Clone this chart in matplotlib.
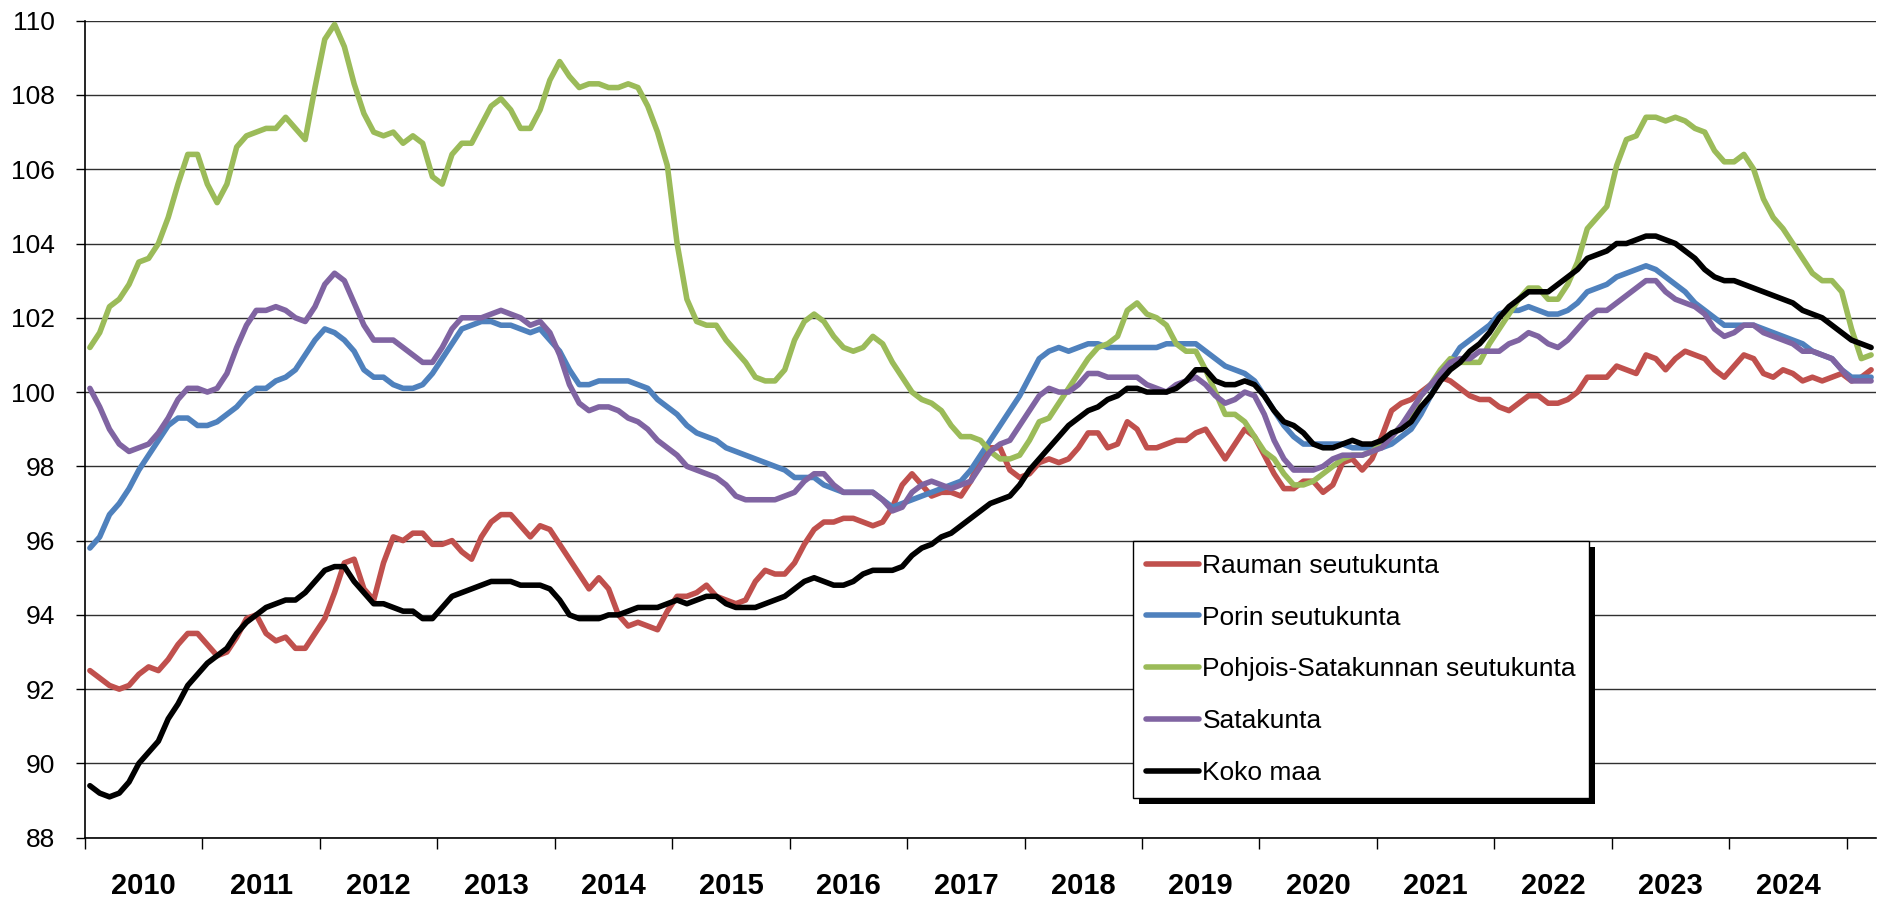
import numpy as np
import matplotlib
matplotlib.use("Agg")
import matplotlib.pyplot as plt
from matplotlib.patches import Rectangle

plt.rcParams['font.family'] = ['Liberation Sans', 'DejaVu Sans']

# Monthly index values, Jan 2010 - Mar 2025
rauma = [
    92.5, 92.3, 92.1, 92.0, 92.1, 92.4, 92.6, 92.5, 92.8, 93.2, 93.5, 93.5,
    93.2, 92.9, 93.0, 93.4, 93.9, 94.0, 93.5, 93.3, 93.4, 93.1, 93.1, 93.5,
    93.9, 94.6, 95.4, 95.5, 94.7, 94.4, 95.4, 96.1, 96.0, 96.2, 96.2, 95.9,
    95.9, 96.0, 95.7, 95.5, 96.1, 96.5, 96.7, 96.7, 96.4, 96.1, 96.4, 96.3,
    95.9, 95.5, 95.1, 94.7, 95.0, 94.7, 94.0, 93.7, 93.8, 93.7, 93.6, 94.1,
    94.5, 94.5, 94.6, 94.8, 94.5, 94.4, 94.3, 94.4, 94.9, 95.2, 95.1, 95.1,
    95.4, 95.9, 96.3, 96.5, 96.5, 96.6, 96.6, 96.5, 96.4, 96.5, 96.9, 97.5,
    97.8, 97.5, 97.2, 97.3, 97.3, 97.2, 97.6, 98.2, 98.5, 98.5, 97.9, 97.7,
    97.8, 98.1, 98.2, 98.1, 98.2, 98.5, 98.9, 98.9, 98.5, 98.6, 99.2, 99.0,
    98.5, 98.5, 98.6, 98.7, 98.7, 98.9, 99.0, 98.6, 98.2, 98.6, 99.0, 98.8,
    98.3, 97.8, 97.4, 97.4, 97.6, 97.6, 97.3, 97.5, 98.1, 98.2, 97.9, 98.2,
    98.8, 99.5, 99.7, 99.8, 100.0, 100.2, 100.4, 100.3, 100.1, 99.9, 99.8, 99.8,
    99.6, 99.5, 99.7, 99.9, 99.9, 99.7, 99.7, 99.8, 100.0, 100.4, 100.4, 100.4,
    100.7, 100.6, 100.5, 101.0, 100.9, 100.6, 100.9, 101.1, 101.0, 100.9, 100.6, 100.4,
    100.7, 101.0, 100.9, 100.5, 100.4, 100.6, 100.5, 100.3, 100.4, 100.3, 100.4, 100.5,
    100.3, 100.4, 100.6,
]

pori = [
    95.8, 96.1, 96.7, 97.0, 97.4, 97.9, 98.3, 98.7, 99.1, 99.3, 99.3, 99.1,
    99.1, 99.2, 99.4, 99.6, 99.9, 100.1, 100.1, 100.3, 100.4, 100.6, 101.0, 101.4,
    101.7, 101.6, 101.4, 101.1, 100.6, 100.4, 100.4, 100.2, 100.1, 100.1, 100.2, 100.5,
    100.9, 101.3, 101.7, 101.8, 101.9, 101.9, 101.8, 101.8, 101.7, 101.6, 101.7, 101.4,
    101.1, 100.6, 100.2, 100.2, 100.3, 100.3, 100.3, 100.3, 100.2, 100.1, 99.8, 99.6,
    99.4, 99.1, 98.9, 98.8, 98.7, 98.5, 98.4, 98.3, 98.2, 98.1, 98.0, 97.9,
    97.7, 97.7, 97.7, 97.5, 97.4, 97.3, 97.3, 97.3, 97.3, 97.1, 96.9, 97.0,
    97.1, 97.2, 97.3, 97.4, 97.5, 97.6, 97.9, 98.3, 98.7, 99.1, 99.5, 99.9,
    100.4, 100.9, 101.1, 101.2, 101.1, 101.2, 101.3, 101.3, 101.2, 101.2, 101.2, 101.2,
    101.2, 101.2, 101.3, 101.3, 101.3, 101.3, 101.1, 100.9, 100.7, 100.6, 100.5, 100.3,
    99.9, 99.5, 99.1, 98.8, 98.6, 98.6, 98.6, 98.6, 98.6, 98.5, 98.5, 98.5,
    98.5, 98.6, 98.8, 99.0, 99.4, 99.9, 100.4, 100.8, 101.2, 101.4, 101.6, 101.8,
    102.1, 102.2, 102.2, 102.3, 102.2, 102.1, 102.1, 102.2, 102.4, 102.7, 102.8, 102.9,
    103.1, 103.2, 103.3, 103.4, 103.3, 103.1, 102.9, 102.7, 102.4, 102.2, 102.0, 101.8,
    101.8, 101.8, 101.8, 101.7, 101.6, 101.5, 101.4, 101.3, 101.1, 101.0, 100.9, 100.6,
    100.4, 100.4, 100.4,
]

pohjois = [
    101.2, 101.6, 102.3, 102.5, 102.9, 103.5, 103.6, 104.0, 104.7, 105.6, 106.4, 106.4,
    105.6, 105.1, 105.6, 106.6, 106.9, 107.0, 107.1, 107.1, 107.4, 107.1, 106.8, 108.2,
    109.5, 109.9, 109.3, 108.3, 107.5, 107.0, 106.9, 107.0, 106.7, 106.9, 106.7, 105.8,
    105.6, 106.4, 106.7, 106.7, 107.2, 107.7, 107.9, 107.6, 107.1, 107.1, 107.6, 108.4,
    108.9, 108.5, 108.2, 108.3, 108.3, 108.2, 108.2, 108.3, 108.2, 107.7, 107.0, 106.1,
    104.0, 102.5, 101.9, 101.8, 101.8, 101.4, 101.1, 100.8, 100.4, 100.3, 100.3, 100.6,
    101.4, 101.9, 102.1, 101.9, 101.5, 101.2, 101.1, 101.2, 101.5, 101.3, 100.8, 100.4,
    100.0, 99.8, 99.7, 99.5, 99.1, 98.8, 98.8, 98.7, 98.4, 98.2, 98.2, 98.3,
    98.7, 99.2, 99.3, 99.7, 100.1, 100.5, 100.9, 101.2, 101.3, 101.5, 102.2, 102.4,
    102.1, 102.0, 101.8, 101.3, 101.1, 101.1, 100.6, 100.0, 99.4, 99.4, 99.2, 98.8,
    98.4, 98.2, 97.8, 97.5, 97.5, 97.6, 97.8, 98.0, 98.2, 98.3, 98.3, 98.4,
    98.6, 98.8, 99.1, 99.4, 99.9, 100.2, 100.6, 100.9, 100.8, 100.8, 100.8, 101.3,
    101.7, 102.1, 102.5, 102.8, 102.8, 102.5, 102.5, 102.9, 103.5, 104.4, 104.7, 105.0,
    106.1, 106.8, 106.9, 107.4, 107.4, 107.3, 107.4, 107.3, 107.1, 107.0, 106.5, 106.2,
    106.2, 106.4, 106.0, 105.2, 104.7, 104.4, 104.0, 103.6, 103.2, 103.0, 103.0, 102.7,
    101.7, 100.9, 101.0,
]

satakunta = [
    100.1, 99.6, 99.0, 98.6, 98.4, 98.5, 98.6, 98.9, 99.3, 99.8, 100.1, 100.1,
    100.0, 100.1, 100.5, 101.2, 101.8, 102.2, 102.2, 102.3, 102.2, 102.0, 101.9, 102.3,
    102.9, 103.2, 103.0, 102.4, 101.8, 101.4, 101.4, 101.4, 101.2, 101.0, 100.8, 100.8,
    101.2, 101.7, 102.0, 102.0, 102.0, 102.1, 102.2, 102.1, 102.0, 101.8, 101.9, 101.6,
    101.0, 100.2, 99.7, 99.5, 99.6, 99.6, 99.5, 99.3, 99.2, 99.0, 98.7, 98.5,
    98.3, 98.0, 97.9, 97.8, 97.7, 97.5, 97.2, 97.1, 97.1, 97.1, 97.1, 97.2,
    97.3, 97.6, 97.8, 97.8, 97.5, 97.3, 97.3, 97.3, 97.3, 97.1, 96.8, 96.9,
    97.3, 97.5, 97.6, 97.5, 97.4, 97.5, 97.6, 98.0, 98.4, 98.6, 98.7, 99.1,
    99.5, 99.9, 100.1, 100.0, 100.0, 100.2, 100.5, 100.5, 100.4, 100.4, 100.4, 100.4,
    100.2, 100.1, 100.0, 100.2, 100.3, 100.4, 100.2, 99.9, 99.7, 99.8, 100.0, 99.9,
    99.4, 98.7, 98.2, 97.9, 97.9, 97.9, 98.0, 98.2, 98.3, 98.3, 98.3, 98.4,
    98.5, 98.8, 99.1, 99.5, 99.9, 100.2, 100.5, 100.8, 100.9, 100.9, 101.1, 101.1,
    101.1, 101.3, 101.4, 101.6, 101.5, 101.3, 101.2, 101.4, 101.7, 102.0, 102.2, 102.2,
    102.4, 102.6, 102.8, 103.0, 103.0, 102.7, 102.5, 102.4, 102.3, 102.1, 101.7, 101.5,
    101.6, 101.8, 101.8, 101.6, 101.5, 101.4, 101.3, 101.1, 101.1, 101.0, 100.9, 100.6,
    100.3, 100.3, 100.3,
]

koko_maa = [
    89.4, 89.2, 89.1, 89.2, 89.5, 90.0, 90.3, 90.6, 91.2, 91.6, 92.1, 92.4,
    92.7, 92.9, 93.1, 93.5, 93.8, 94.0, 94.2, 94.3, 94.4, 94.4, 94.6, 94.9,
    95.2, 95.3, 95.3, 94.9, 94.6, 94.3, 94.3, 94.2, 94.1, 94.1, 93.9, 93.9,
    94.2, 94.5, 94.6, 94.7, 94.8, 94.9, 94.9, 94.9, 94.8, 94.8, 94.8, 94.7,
    94.4, 94.0, 93.9, 93.9, 93.9, 94.0, 94.0, 94.1, 94.2, 94.2, 94.2, 94.3,
    94.4, 94.3, 94.4, 94.5, 94.5, 94.3, 94.2, 94.2, 94.2, 94.3, 94.4, 94.5,
    94.7, 94.9, 95.0, 94.9, 94.8, 94.8, 94.9, 95.1, 95.2, 95.2, 95.2, 95.3,
    95.6, 95.8, 95.9, 96.1, 96.2, 96.4, 96.6, 96.8, 97.0, 97.1, 97.2, 97.5,
    97.9, 98.2, 98.5, 98.8, 99.1, 99.3, 99.5, 99.6, 99.8, 99.9, 100.1, 100.1,
    100.0, 100.0, 100.0, 100.1, 100.3, 100.6, 100.6, 100.3, 100.2, 100.2, 100.3, 100.2,
    99.9, 99.5, 99.2, 99.1, 98.9, 98.6, 98.5, 98.5, 98.6, 98.7, 98.6, 98.6,
    98.7, 98.9, 99.0, 99.2, 99.6, 99.9, 100.3, 100.6, 100.8, 101.1, 101.3, 101.6,
    102.0, 102.3, 102.5, 102.7, 102.7, 102.7, 102.9, 103.1, 103.3, 103.6, 103.7, 103.8,
    104.0, 104.0, 104.1, 104.2, 104.2, 104.1, 104.0, 103.8, 103.6, 103.3, 103.1, 103.0,
    103.0, 102.9, 102.8, 102.7, 102.6, 102.5, 102.4, 102.2, 102.1, 102.0, 101.8, 101.6,
    101.4, 101.3, 101.2,
]

years = list(range(2010, 2025))
labels = ["Rauman seutukunta", "Porin seutukunta", "Pohjois-Satakunnan seutukunta",
          "Satakunta", "Koko maa"]
colors = ["#C0504D", "#4F81BD", "#9BBB59", "#8064A2", "black"]

series = [rauma, pori, pohjois, satakunta, koko_maa]
n = len(rauma)
x = np.arange(n) + 0.5

W, H = 1879, 902
fig = plt.figure(figsize=(W / 100, H / 100), dpi=100)
ax = fig.add_axes([85 / W, 1 - 837.7 / H, 1791 / W, 817 / H])

for vals, lab, col in zip(series, labels, colors):
    ax.plot(x, vals, color=col, lw=4.0, label=lab, solid_joinstyle="round",
            solid_capstyle="round")

ax.set_xlim(0, n)
ax.set_ylim(88, 110)
ax.set_yticks(np.arange(88, 111, 2))
ax.yaxis.grid(True, color="#303030", lw=1.0)
ax.set_axisbelow(True)

# year ticks at boundaries, labels centred in each year
ax.set_xticks(np.arange(0, n, 12))
ax.set_xticklabels([])
ax.set_xticks(np.arange(6, 12 * len(years), 12), minor=True)
ax.set_xticklabels([str(y) for y in years], minor=True, fontsize=21,
                   fontweight="bold")
ax.tick_params(axis="x", which="major", length=8, width=1, direction="out")
ax.tick_params(axis="x", which="minor", length=0, pad=25)
ax.tick_params(axis="y", length=6.5, width=1, direction="out", labelsize=19,
               pad=15)

for s in ["top", "right"]:
    ax.spines[s].set_visible(False)
ax.spines["left"].set_linewidth(1.2)
ax.spines["bottom"].set_linewidth(1.2)

leg = ax.legend(loc="upper left", bbox_to_anchor=(0.5849, 0.3635), borderaxespad=0,
                fontsize=19, frameon=True, fancybox=False, edgecolor="black",
                framealpha=1, handlelength=2.0, handletextpad=0.15,
                labelspacing=1.05, borderpad=0.5)
leg.get_frame().set_linewidth(1.0)

fig.canvas.draw()
bb = leg.get_window_extent()
shadow = Rectangle((bb.x0 + 6, bb.y0 - 6), bb.width, bb.height, transform=None,
                   facecolor="black", edgecolor="none", zorder=4.9)
ax.add_artist(shadow)

fig.savefig("out.png", dpi=100)
